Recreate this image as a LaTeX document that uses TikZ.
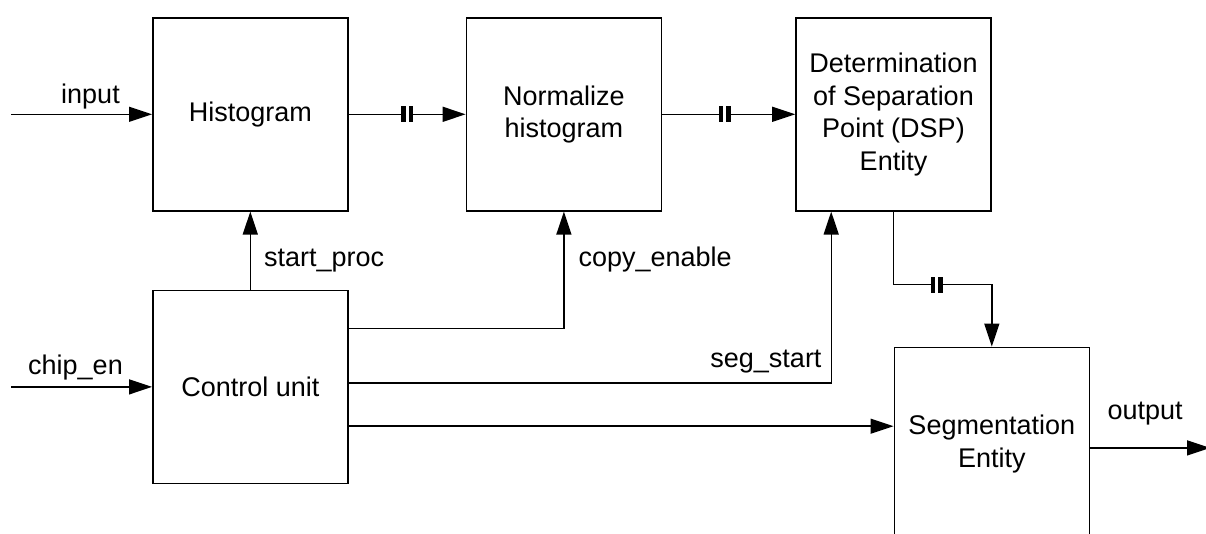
\documentclass[tikz,border=0pt]{standalone}
\usepackage{fontspec}
\setmainfont{Liberation Sans}
\usetikzlibrary{arrows.meta, positioning, calc}

\tikzset{
  block/.style={draw, line width=0.8pt, minimum width=97.5pt, minimum height=96.5pt,
    align=center, inner sep=2pt, font=\fontsize{13.5}{16.25}\selectfont},
  sig/.style={->, line width=0.7pt},
  lbl/.style={font=\fontsize{13.5}{16.25}\selectfont, inner sep=0pt},
}

% bus marker: two short bars across a horizontal line
\newcommand{\busmark}[1]{%
  \fill[white] ($(#1)+(-3pt,-4.2pt)$) rectangle ($(#1)+(3pt,4.2pt)$);
  \fill ($(#1)+(-3pt,-4pt)$) rectangle ($(#1)+(-0.8pt,4pt)$);
  \fill ($(#1)+(0.8pt,-4pt)$) rectangle ($(#1)+(3pt,4pt)$);
}

\begin{document}
\begin{tikzpicture}[x=0.5pt, y=-0.5pt, >={Triangle[length=11.5pt, width=7.5pt]}]
\clip (0,0) rectangle (1206,534);

% --- Blocks ---
\node[block, anchor=north west] (hist) at (152,17) {Histogram};
\node[block, right=58.5pt of hist] (norm) {Normalize\\histogram};
\node[block, right=66.5pt of norm] (dsp) {Determination\\of Separation\\Point (DSP)\\Entity};
\node[block, below=39pt of hist] (ctrl) {Control unit};
\node[block, below right=67.5pt and 0pt of dsp.south] (seg) {Segmentation\\Entity};

% --- Inputs ---
\coordinate (inp) at ($(hist.west)+(-70.5pt,0)$);
\draw[sig] (inp) -- node[lbl, anchor=base, xshift=4.5pt, yshift=5.5pt] (lin) {input} (hist.west);
\coordinate (chip) at ($(ctrl.west)+(-70.5pt,0)$);
\draw[sig] (chip) -- node[lbl, anchor=base, xshift=-3pt, yshift=6pt] (lchip) {chip\_en} (ctrl.west);

% --- Data path ---
\draw[sig] (hist.east) -- coordinate[midway] (b1) (norm.west);
\draw[sig] (norm.east) -- coordinate[pos=0.47] (b2) (dsp.west);
\draw[sig] (dsp.south) -- ++(0,-36.5pt) -| coordinate[pos=0.22] (b3) (seg.north);

% --- Control signals ---
\draw[sig] (ctrl.north) -- node[lbl, at start, anchor=base west, xshift=6.5pt, yshift=11.5pt] (lstart) {start\_proc} (hist.south);
\draw[sig] ($(ctrl.north east)+(0,-19.5pt)$) -| node[lbl, pos=0.5, anchor=base west, xshift=7pt, yshift=31pt] (lcopy) {copy\_enable} (norm.south);
\draw[sig] ($(ctrl.east)+(0,2pt)$) -| node[lbl, pos=0.5, anchor=base east, xshift=-4.5pt, yshift=7.5pt] (lseg) {seg\_start} ($(dsp.south west)+(18pt,0)$);
\draw[sig] ($(ctrl.south east)+(0,29pt)$) coordinate (c3) -- (c3 -| seg.west);

% --- Output ---
\coordinate (outp) at ($(seg.east)+(60pt,-2pt)$);
\draw[sig] ($(seg.east)+(0,-2pt)$) -- node[lbl, anchor=base, xshift=-2.5pt, yshift=14pt] (lout) {output} (outp);

% bus markers
\busmark{b1}
\busmark{b2}
\busmark{b3}

\end{tikzpicture}
\end{document}
